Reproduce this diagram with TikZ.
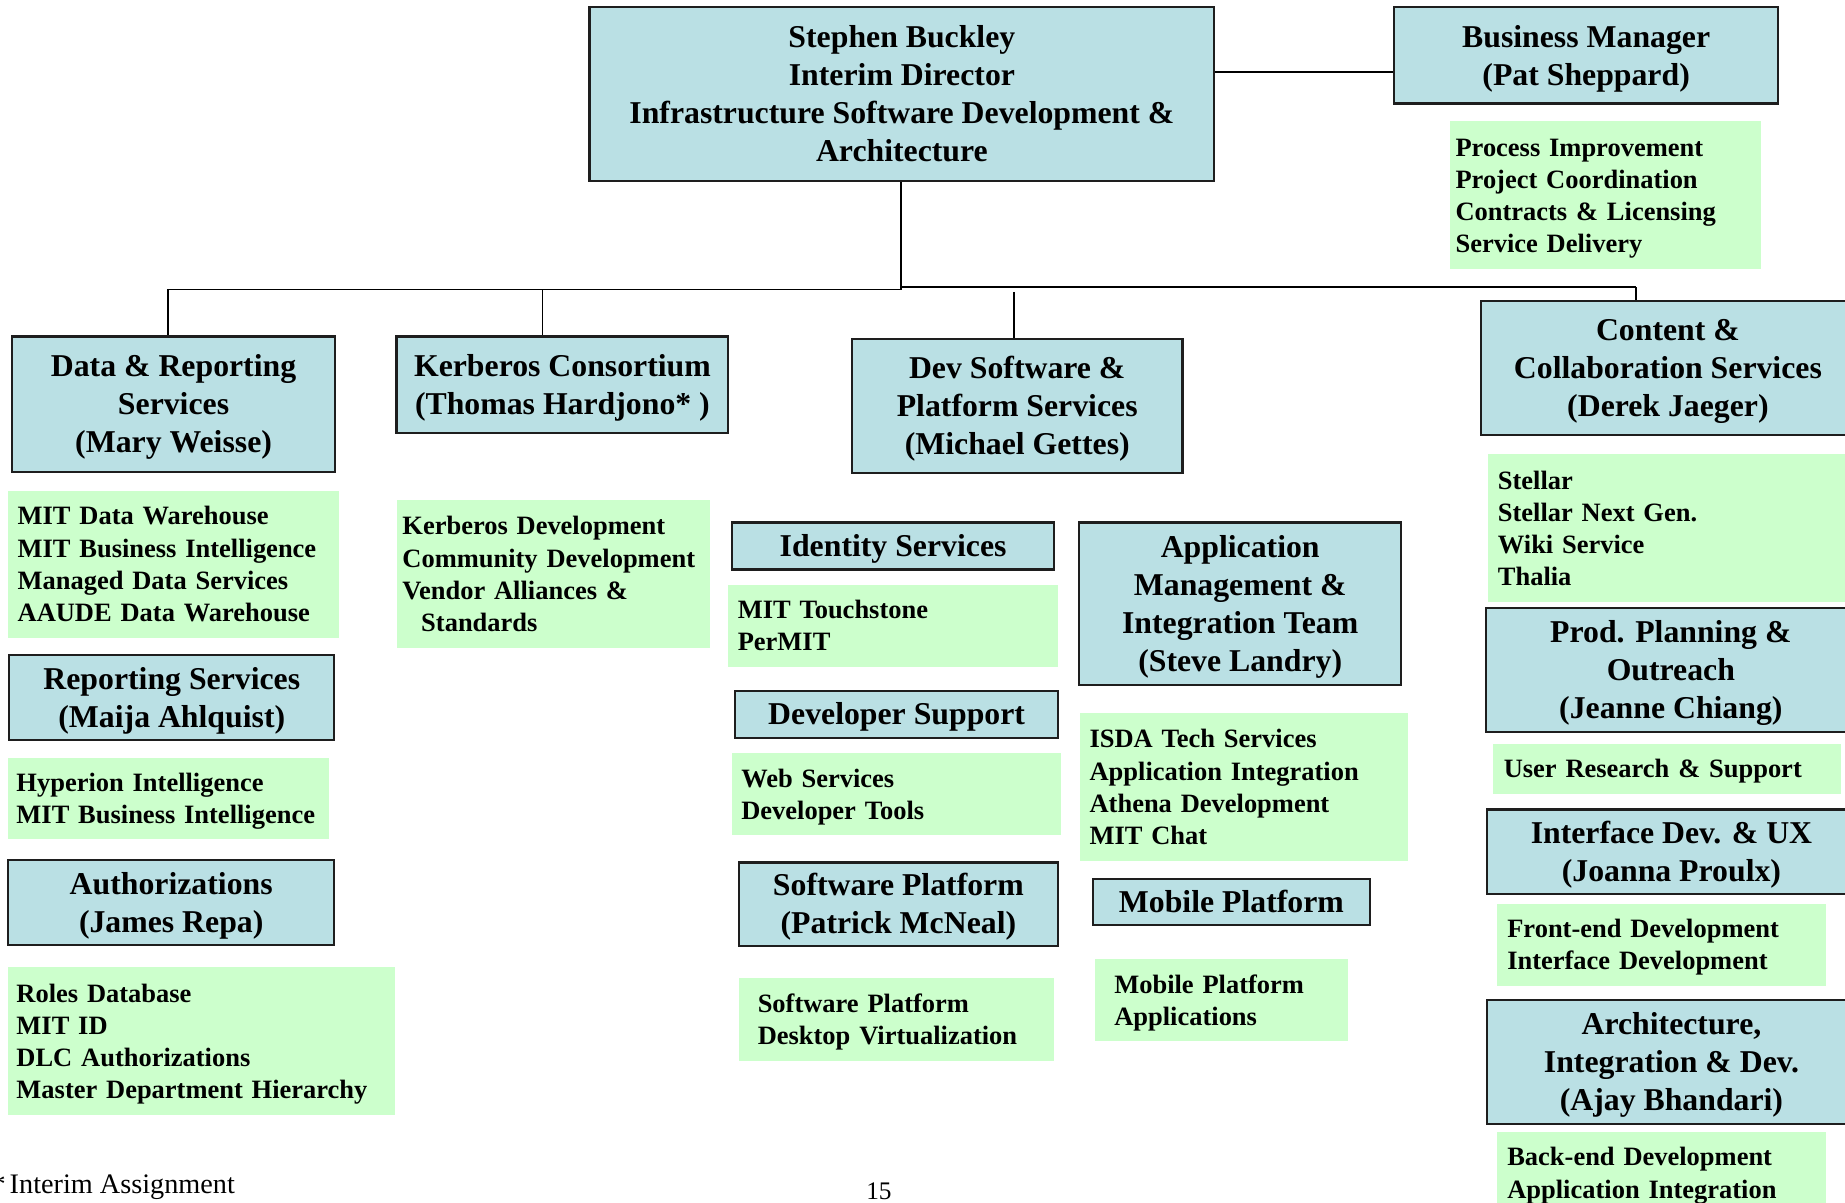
\documentclass[tikz,border=0pt]{standalone}
\usepackage{fontspec}
\setmainfont{Liberation Serif}
\definecolor{boxblue}{RGB}{186,224,228}
\definecolor{boxgreen}{RGB}{204,255,204}
\definecolor{edge}{RGB}{30,30,30}
\newcommand{\lstrut}{\rule[-0.216em]{0pt}{1.107em}}
\begin{document}
\begin{tikzpicture}[x=1pt,y=-1pt,
  bbox/.style={draw=edge, line width=1.8pt, fill=boxblue, inner sep=0pt, align=center,
    font=\bfseries\fontsize{27}{32.3}\selectfont,
    execute at end node=\lstrut},
  gbox/.style={fill=boxgreen, inner ysep=0pt, align=left,
    font=\bfseries\fontsize{22.5}{27.3}\selectfont,
    execute at begin node=\lstrut, execute at end node=\lstrut},
  conn/.style={draw=black, line width=1.6pt}]
\clip (0,0) rectangle (1568,1022);
\fill[white] (0,0) rectangle (1568,1022);

% blue boxes
\node[bbox, minimum width=531, minimum height=148] (stephen) at (766.5,80)
  {\lstrut Stephen Buckley\\Interim Director\\Infrastructure Software Development \&\\Architecture};
\node[bbox, minimum width=326, minimum height=82] (bizmgr) at (1348,47)
  {\lstrut Business Manager\\(Pat Sheppard)};
\node[bbox, minimum width=275, minimum height=115] (data) at (147.5,343.5)
  {\lstrut Data \& Reporting\\Services\\(Mary Weisse)};
\node[bbox, minimum width=282, minimum height=82] (kerb) at (478,327)
  {\lstrut Kerberos Consortium\\(Thomas Hardjono* )};
\node[bbox, minimum width=281, minimum height=114] (devsw) at (864.5,345)
  {\lstrut Dev Software \&\\Platform Services\\(Michael Gettes)};
\node[bbox, minimum width=317, minimum height=114] (content) at (1417.5,313)
  {\lstrut Content \&\\Collaboration Services\\(Derek Jaeger)};
\node[bbox, minimum width=276, minimum height=72] (reporting) at (146,593)
  {\lstrut Reporting Services\\(Maija Ahlquist)};
\node[bbox, minimum width=277, minimum height=72] (authz) at (145.5,767)
  {\lstrut Authorizations\\(James Repa)};
\node[bbox, minimum width=274, minimum height=40] (identity) at (759,464)
  {\lstrut Identity Services};
\node[bbox, minimum width=274, minimum height=138] (appmgmt) at (1054,513)
  {\lstrut Application\\Management \&\\Integration Team\\(Steve Landry)};
\node[bbox, minimum width=274, minimum height=40] (devsupport) at (762,607)
  {\lstrut Developer Support};
\node[bbox, minimum width=271, minimum height=71] (swplat) at (763.5,768.5)
  {\lstrut Software Platform\\(Patrick McNeal)};
\node[bbox, minimum width=235, minimum height=39] (mobile) at (1046.5,766.5)
  {\lstrut Mobile Platform};
\node[bbox, minimum width=314, minimum height=105] (prod) at (1420,569.5)
  {\lstrut Prod. Planning \&\\Outreach\\(Jeanne Chiang)};
\node[bbox, minimum width=313, minimum height=72] (iface) at (1420.5,724)
  {\lstrut Interface Dev. \& UX\\(Joanna Proulx)};
\node[bbox, minimum width=313, minimum height=105] (arch) at (1420.5,902.5)
  {\lstrut Architecture,\\Integration \& Dev.\\(Ajay Bhandari)};

% green lists
\node[gbox, inner xsep=5, minimum width=265, minimum height=126, text width=255] (bizlist) at (1364.5,166)
  {Process Improvement\\Project Coordination\\Contracts \& Licensing\\Service Delivery};
\node[gbox, inner xsep=8, minimum width=281, minimum height=125, text width=265] (datalist) at (147.5,479.5)
  {MIT Data Warehouse\\MIT Business Intelligence\\Managed Data Services\\AAUDE Data Warehouse};
\node[gbox, inner xsep=5, minimum width=266, minimum height=126, text width=256] (kerblist) at (470,488)
  {Kerberos Development\\Community Development\\Vendor Alliances \&\\\hspace*{16pt}Standards};
\node[gbox, inner xsep=8, minimum width=280, minimum height=70, text width=264] (idlist) at (759,532)
  {MIT Touchstone\\PerMIT};
\node[gbox, inner xsep=8, minimum width=280, minimum height=70, text width=264] (devlist) at (762,675)
  {Web Services\\Developer Tools};
\node[gbox, inner xsep=16, minimum width=268, minimum height=71, text width=236] (swlist) at (762,866.5)
  {Software Platform\\Desktop Virtualization};
\node[gbox, inner xsep=8, minimum width=279, minimum height=126, text width=263] (applist) at (1057.5,669)
  {ISDA Tech Services\\Application Integration\\Athena Development\\MIT Chat};
\node[gbox, inner xsep=16, minimum width=215, minimum height=70, text width=183] (moblist) at (1038.5,850)
  {Mobile Platform\\Applications};
\node[gbox, inner xsep=7, minimum width=273, minimum height=69, text width=259] (replist) at (143.5,678.5)
  {Hyperion Intelligence\\MIT Business Intelligence};
\node[gbox, inner xsep=7, minimum width=329, minimum height=126, text width=315] (authlist) at (171.5,885)
  {Roles Database\\MIT ID\\DLC Authorizations\\Master Department Hierarchy};
\node[gbox, inner xsep=8, minimum width=311, minimum height=126, text width=295] (contlist) at (1420.5,449)
  {Stellar\\Stellar Next Gen.\\Wiki Service\\Thalia};
\node[gbox, inner xsep=9, minimum width=296, minimum height=43, text width=278] (prodlist) at (1417,653.5)
  {User Research \& Support};
\node[gbox, inner xsep=9, minimum width=280, minimum height=70, text width=262] (ifacelist) at (1412,803)
  {Front-end Development\\Interface Development};
\node[gbox, inner xsep=9, minimum width=280, minimum height=70, text width=262] (archlist) at (1412,997)
  {Back-end Development\\Application Integration};

% connectors
\coordinate (bus) at (766,245);
\draw[conn] (stephen.east |- 0,61) -- (bizmgr.west |- 0,61);
\draw[conn] (stephen.south -| bus) -- (bus);
\draw[conn] (143,246) -- (766,246) -- (766,244) -- (1390,244);
\draw[conn] (143,246) -- (data.north -| 143,0);
\draw[conn] (461,246) -- (kerb.north -| 461,0);
\draw[conn] (862,248) -- (devsw.north -| 862,0);
\draw[conn] (1390,244) -- (content.north -| 1390,0);

% footer
\node[anchor=base west, inner sep=0pt, font=\fontsize{24}{28}\selectfont] (foot) at (-7.3,1014) {*\hspace{-2.6pt} Interim Assignment};
\node[anchor=base, inner sep=0pt, font=\fontsize{21.5}{26}\selectfont] (page) at (747,1019) {15};
\end{tikzpicture}
\end{document}
